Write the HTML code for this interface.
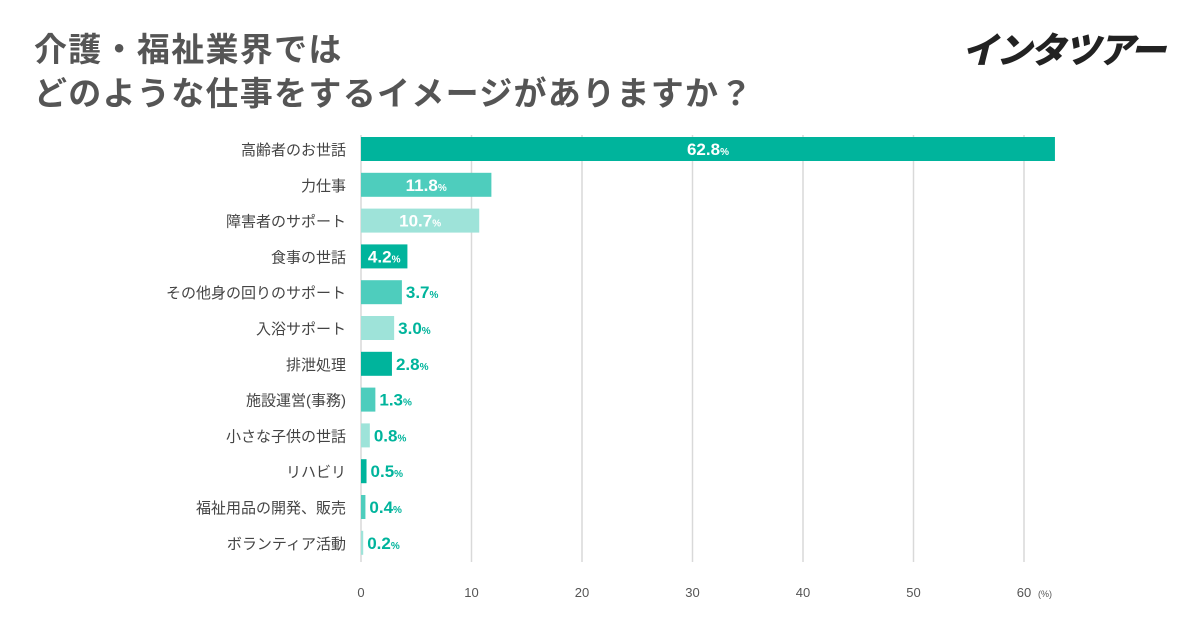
<!DOCTYPE html>
<html><head><meta charset="utf-8">
<style>
body{margin:0;width:1200px;height:628px;background:#fff;overflow:hidden;font-family:"Liberation Sans","Noto Sans CJK JP",sans-serif;}
.title{position:absolute;left:34px;top:28px;font-size:33px;font-weight:bold;color:#555;line-height:44px;letter-spacing:1.3px;}
.logo{position:absolute;left:962px;top:22px;font-size:36px;font-weight:900;font-style:italic;color:#222;letter-spacing:-2px;}
</style></head><body>
<div class="title">介護・福祉業界では<br>どのような仕事をするイメージがありますか？</div>
<div class="logo">インタツアー</div>
<svg id="chart" width="1200" height="628" style="position:absolute;left:0;top:0"></svg>
<script>
const categories=["高齢者のお世話","力仕事","障害者のサポート","食事の世話","その他身の回りのサポート","入浴サポート","排泄処理","施設運営(事務)","小さな子供の世話","リハビリ","福祉用品の開発、販売","ボランティア活動"];
const values=[62.8,11.8,10.7,4.2,3.7,3.0,2.8,1.3,0.8,0.5,0.4,0.2];
const ticks=[0,10,20,30,40,50,60];
const svg=document.getElementById('chart');
const NS='http://www.w3.org/2000/svg';
const x0=361,pxPer=11.05,y0=149,step=35.8,bh=24;
const xs=v=>x0+v*pxPer;
const ys=i=>y0+i*step;
const colors=["#00b49c","#4ecdbd","#9ee3d9"];
function mk(t,a){const e=document.createElementNS(NS,t);for(const k in a)e.setAttribute(k,a[k]);svg.appendChild(e);return e;}
ticks.forEach(t=>{
  const l=mk('line',{x1:xs(t),x2:xs(t),y1:135,y2:562,stroke:'#d9d9d9','stroke-width':1.5});
  
  
  const tx=mk('text',{x:xs(t),y:597,'text-anchor':'middle','font-size':13,fill:'#555'});
  tx.textContent=t;
  
  
});
const u=mk('text',{x:xs(60)+14,y:597,'font-size':9,fill:'#555'});u.textContent='(%)';


categories.forEach((c,i)=>{
  const y=ys(i);
  const cl=mk('text',{x:346,y:y+6,'text-anchor':'end','font-size':15,fill:'#444'});
  cl.textContent=c;
  
  
  const w=Math.max(xs(values[i])-x0,2);
  const r=mk('rect',{x:x0,y:y-bh/2,width:w,height:bh,fill:colors[i%3]});
  
  
  const inside=values[i]>=4;
  const t=mk('text',{'font-size':17,'font-weight':'bold',y:y+6,fill:inside?'#fff':'#00b49c'});
  t.innerHTML=values[i].toFixed(1)+'<tspan font-size="10">%</tspan>';
  if(inside){t.setAttribute('x',x0+w/2);t.setAttribute('text-anchor','middle');}
  else{t.setAttribute('x',x0+w+4);}
  
  
});
</script>
</body></html>
